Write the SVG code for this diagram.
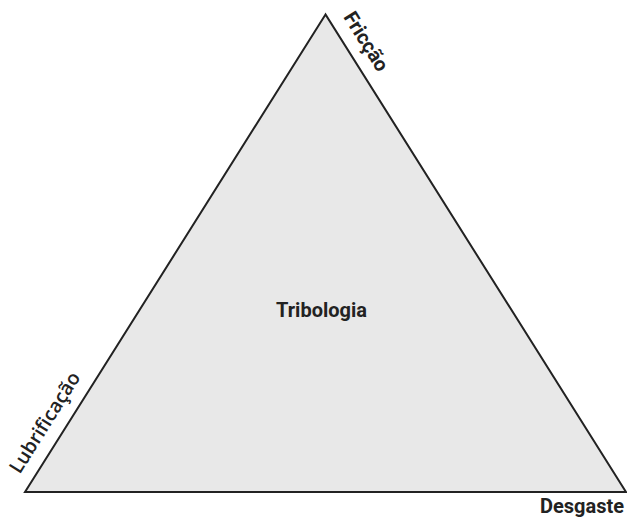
<svg xmlns="http://www.w3.org/2000/svg" width="627" height="517" viewBox="0 0 627 517">
<style>
.lbl{font-family:Roboto,"Liberation Sans",sans-serif;font-weight:bold;font-size:20px;fill:#222}
.os{font-family:"Open Sans","Liberation Sans",sans-serif;font-weight:600;font-size:19.5px;fill:#222}
</style>
<rect width="627" height="517" fill="#ffffff"/>
<g id="triangle">
<polygon points="325.5,14.5 25,492 626,492" fill="#e8e8e8" stroke="#222" stroke-width="2" stroke-linejoin="miter"/>
<text class="lbl" x="321.5" y="317" text-anchor="middle">Tribologia</text>
</g>
<g id="friccao"><text class="lbl" text-anchor="middle" transform="translate(360.5,45) rotate(57.9)">Fricção</text></g>
<g id="lubrificacao"><text class="os" text-anchor="middle" transform="translate(50.5,426) rotate(-57.9)">Lubrificação</text></g>
<g id="desgaste"><text class="lbl" x="624" y="513" text-anchor="end">Desgaste</text></g>
<g id="connectors"></g>
</svg>
